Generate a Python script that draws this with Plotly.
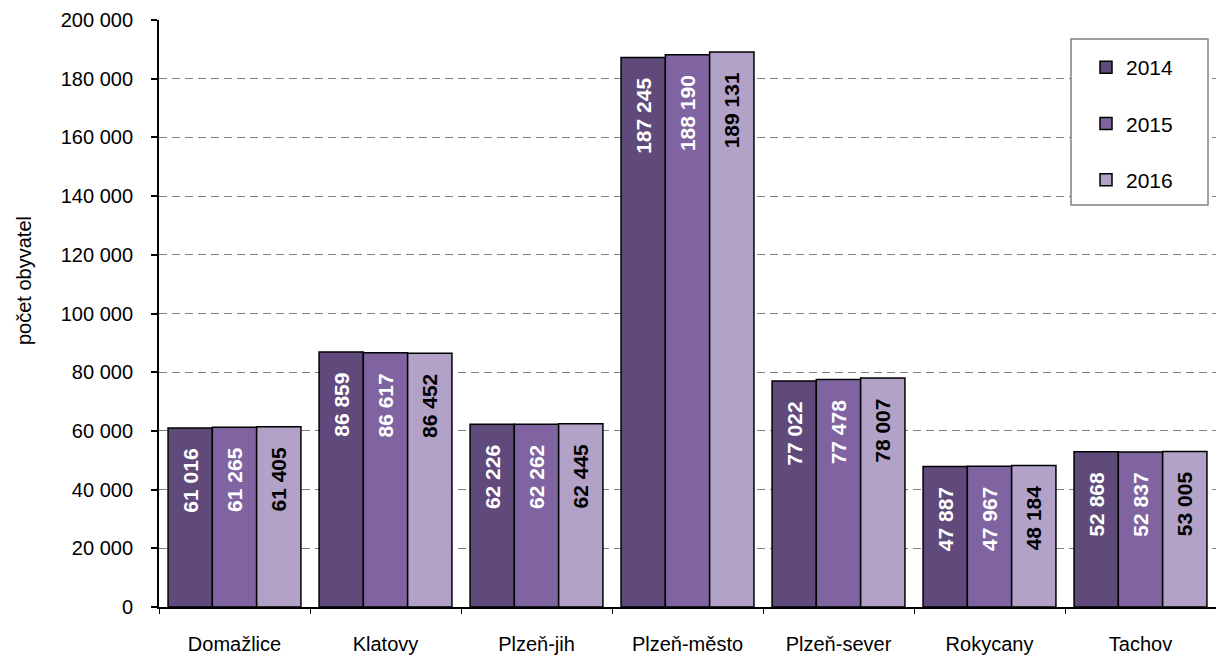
import plotly.graph_objects as go

categories = ["Domažlice", "Klatovy", "Plzeň-jih", "Plzeň-město", "Plzeň-sever", "Rokycany", "Tachov"]
v2014 = [61016, 86859, 62226, 187245, 77022, 47887, 52868]
v2015 = [61265, 86617, 62262, 188190, 77478, 47967, 52837]
v2016 = [61405, 86452, 62445, 189131, 78007, 48184, 53005]
years = ["2014", "2015", "2016"]
colors = ["#604A7B", "#8064A2", "#B3A2C7"]
text_colors = ["white", "white", "black"]
y_title = "počet obyvatel"

NBSP = "\u00a0"

def fmt(v):
    return f"{v:,}".replace(",", " ")

fig = go.Figure()
for name, vals, c, tc in zip(years, [v2014, v2015, v2016], colors, text_colors):
    fig.add_trace(go.Bar(
        x=categories, y=vals, name=name, legendgroup=name,
        marker=dict(color=c, line=dict(color="black", width=1.5)),
        text=[fmt(v) + NBSP * 3 for v in vals], textposition="inside", insidetextanchor="end",
        textangle=-90, textfont=dict(color=tc, size=21, family="Liberation Sans, Arial", weight="bold"),
        constraintext="none",
    ))

L, R, T, B = 159, 0, 20, 49
W, H = 1216, 656
PW, PH = W - L - R, H - T - B

def px_x(x):
    return (x - L) / PW

def px_y(y):
    return (H - B - y) / PH

fig.update_layout(
    width=W, height=H,
    barmode="group", bargap=0.12, bargroupgap=0,
    separators=", ",
    plot_bgcolor="white", paper_bgcolor="white",
    margin=dict(l=L, r=R, t=T, b=B, autoexpand=False),
    font=dict(family="Liberation Sans, Arial", size=20, color="black"),
    legend=dict(x=px_x(1086), y=px_y(47), xanchor="left", yanchor="top",
                borderwidth=0, bgcolor="rgba(0,0,0,0)",
                font=dict(size=21), tracegroupgap=26, itemwidth=30),
    showlegend=True,
    shapes=[dict(type="rect", xref="paper", yref="paper",
                 x0=px_x(1071), x1=px_x(1208), y0=px_y(205), y1=px_y(39),
                 line=dict(color="#808080", width=1.5), fillcolor="white", layer="above")],
    annotations=[dict(text=y_title, textangle=-90, xref="paper", yref="paper",
                      x=px_x(24), y=px_y(281),
                      xanchor="center", yanchor="middle", showarrow=False,
                      font=dict(size=20))],
)
fig.update_yaxes(range=[0, 200000], dtick=20000, tickformat=",d", automargin=False,
                 showline=True, linecolor="black", linewidth=2,
                 ticks="outside", ticklen=6, tickcolor="black", tickwidth=1.5,
                 ticklabelstandoff=14,
                 showgrid=True, gridcolor="#808080", griddash="8px,5px", gridwidth=1.3,
                 zeroline=False)
fig.update_xaxes(showline=True, linecolor="black", linewidth=2, automargin=False,
                 ticks="outside", ticklen=5, tickcolor="black", tickson="boundaries",
                 ticklabelstandoff=18,
                 tickfont=dict(size=20))

fig.write_html("out.html", config={"displayModeBar": False},
               post_script="document.body.style.margin='0';document.body.style.overflow='hidden';")
